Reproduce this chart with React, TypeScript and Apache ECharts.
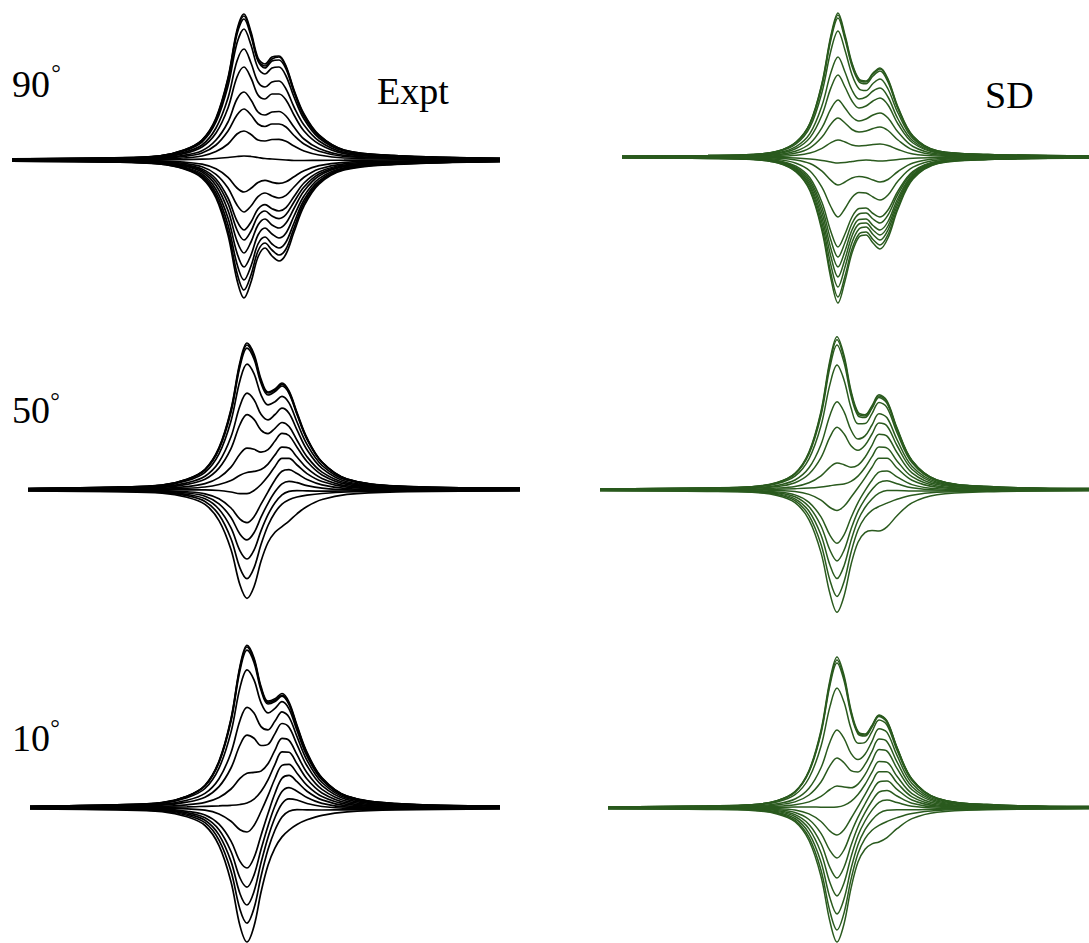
import React, { useEffect, useRef } from "react";
import * as echarts from "echarts";

// Offsets from the main line at which every trace is sampled. Each trace also
// carries one sample at the start and one at the end of its panel's span.
const SHIFT = [-130, -85, -60, -42, -28, -16, -7, 0, 7, 14, 21, 28, 35, 42, 50, 60, 75, 100, 150];

const ANGLES = ["90", "50", "10"];
const METHODS = ["Expt", "SD"];

// 90 degrees, experiment
const expt90 = [
  [1.2, 2.2, 4, 10, 20, 42, 82, 130, 146, 128, 102, 96, 103, 104, 94, 70, 46, 25, 10, 4.5, 1.6],
  [1.2, 2.1, 4, 10, 20, 41, 81, 128, 144, 126, 100, 94, 101, 103, 93, 69, 45, 24.5, 10, 4.4, 1.6],
  [1.1, 2.1, 4, 9.5, 19, 40, 79, 126, 141, 124, 99, 92, 99, 100, 91, 68, 44, 24, 9.5, 4.3, 1.5],
  [1, 1.8, 3.6, 9, 18, 38, 74, 117, 131, 115, 92, 86, 92, 93, 84, 63, 41, 22, 9, 4, 1.4],
  [0.9, 1.5, 3, 7.6, 15, 32, 62, 99, 111, 97, 78, 73, 78, 79, 71, 53, 35, 19, 7.6, 3.5, 1.2],
  [0.7, 1.4, 2.5, 6.4, 13, 27, 52, 83, 93, 82, 65, 61, 66, 66, 60, 45, 29, 16, 6.4, 2.9, 1],
  [0.5, 1, 1.9, 4.7, 9.3, 20, 38, 61, 68, 60, 48, 45, 48, 48.5, 44, 33, 21, 11.5, 4.7, 2.1, 0.8],
  [0.4, 0.7, 1.4, 3.5, 7, 15, 29, 45, 51, 45, 36, 33.5, 36, 36, 33, 24.5, 16, 8.7, 3.5, 1.6, 0.6],
  [0.2, 0.4, 0.8, 2, 4, 8.4, 16, 26, 29, 25.5, 20, 19, 20.5, 20.7, 18.7, 14, 9, 5, 2, 0.9, 0.4],
  [0, 0.1, 0.2, 0.4, 0.8, 1.5, 2.5, 3.5, 4, 3.5, 2.5, 1.5, 1, 0.5, 0, -0.5, -0.5, -0.3, -0.2, 0, 0],
  [-1.2, -2.1, -4, -9, -18, -38, -75, -120, -138, -122, -97, -88, -96, -101, -94, -72, -46, -24, -10, -4.5, -1.6],
  [-1.1, -2, -3.8, -8.5, -17, -36, -71, -113, -130, -115, -91, -83, -90, -95, -89, -68, -43, -22.6, -9.4, -4.3, -1.5],
  [-1, -1.8, -3.5, -7.8, -15.7, -33, -65, -104, -120, -106, -84, -77, -84, -88, -82, -63, -40, -21, -8.7, -3.9, -1.4],
  [-0.9, -1.7, -3.1, -7, -14, -29.5, -58, -93, -107, -95, -75, -68, -74, -78, -73, -56, -36, -18.6, -7.8, -3.5, -1.2],
  [-0.8, -1.4, -2.7, -6, -12, -25.6, -50.5, -81, -93, -82, -65, -59, -65, -68, -63, -48.5, -31, -16, -6.7, -3.1, -1.1],
  [-0.7, -1.3, -2.3, -5.2, -10.4, -22, -43.5, -70, -80, -71, -56, -51, -56, -58.6, -54.5, -42, -27, -14, -5.8, -2.6, -0.9],
  [-0.6, -1.1, -2, -4.6, -9, -19, -38, -61, -70, -62, -49, -44.6, -48.7, -51, -47.7, -36.5, -23, -12, -5, -2.3, -0.8],
  [-0.5, -0.8, -1.5, -3.4, -6.8, -14.3, -28, -45, -52, -46, -36.6, -33, -36, -38, -35.4, -27, -17.3, -9, -3.8, -1.7, -0.6],
  [-0.3, -0.5, -0.9, -2.1, -4.2, -8.8, -17.4, -28, -32, -28.3, -22.5, -20.4, -22.3, -23.4, -21.8, -16.7, -10.7, -5.6, -2.3, -1, -0.4],
];

// 90 degrees, SD simulation
const sd90 = [
  [0.8, 1.4, 2.5, 6, 15, 34, 74, 122, 144, 122, 94, 78, 76, 84, 89, 78, 50, 21, 6, 2.6, 1],
  [0.8, 1.4, 2.5, 5.9, 14.8, 33.5, 73, 120, 142, 120, 92.7, 77, 75, 83, 88, 77, 49, 20.7, 5.9, 2.6, 1],
  [0.7, 1.4, 2.4, 5.8, 14.5, 32.8, 71.4, 117.7, 139, 117.7, 90.7, 75.3, 73.3, 81, 86, 75, 48, 20, 5.8, 2.5, 1],
  [0.7, 1.3, 2.2, 5.2, 13, 29.8, 64.8, 106.8, 126, 106.8, 82.3, 68.3, 66.5, 73.5, 78, 68, 44, 18.4, 5.3, 2.3, 0.8],
  [0.5, 1, 1.7, 4.2, 10.4, 23.6, 51.4, 84.7, 100, 85, 67, 58, 60, 66, 69, 60, 38, 16, 4.5, 2, 0.7],
  [0.5, 0.8, 1.4, 3.4, 8.5, 19.4, 42, 69.4, 82, 70, 56, 49, 51, 56, 59, 52, 33, 14, 4, 1.7, 0.6],
  [0.3, 0.6, 1, 2.4, 6, 13.5, 29.3, 48.3, 57, 49, 40, 36, 38, 42, 44, 39, 25, 10.5, 3, 1.3, 0.4],
  [0.2, 0.4, 0.7, 1.6, 4, 9.2, 20, 33, 39, 34, 27.5, 25, 26, 28.5, 30, 26.5, 17, 7, 2, 0.8, 0.3],
  [0.1, 0.15, 0.3, 0.7, 1.8, 4, 8.7, 14.4, 17, 15, 12, 11, 11.5, 12.5, 13, 11.5, 7.5, 3, 1, 0.4, 0.2],
  [0, -0.1, -0.2, -0.5, -1, -2, -3.5, -5, -6, -5.5, -4.5, -3.5, -3, -3.5, -4, -3.5, -2.5, -1.2, -0.5, -0.1, 0],
  [-0.8, -1.4, -2.5, -6, -15, -34, -74, -122, -146, -124, -96, -80, -78, -86, -92, -81, -52, -22, -6.5, -2.6, -1],
  [-0.8, -1.4, -2.4, -5.8, -14.4, -32.6, -71, -117, -140, -119, -92, -77, -75, -82.5, -88, -77.5, -50, -21, -6.2, -2.5, -1],
  [-0.7, -1.3, -2.2, -5.3, -13.3, -30, -66, -108.6, -130, -110, -85.5, -72, -70, -77.5, -83, -73, -47, -19.8, -5.8, -2.3, -0.9],
  [-0.6, -1.1, -2, -4.9, -12.3, -28, -61, -100, -120, -102, -79, -67, -66, -73, -78, -69, -44, -18.6, -5.5, -2.2, -0.8],
  [-0.5, -1, -1.9, -4.5, -11.3, -25.6, -55.7, -92, -110, -94, -73, -62.5, -62, -68.5, -73, -64.5, -41, -17.4, -5.1, -2.1, -0.8],
  [-0.5, -1, -1.7, -4.1, -10.3, -23.3, -50.7, -83.6, -100, -85.5, -66.5, -57, -56, -62, -66, -58, -37, -15.7, -4.6, -1.8, -0.7],
  [-0.5, -0.8, -1.5, -3.7, -9.2, -21, -45.6, -75, -90, -77, -60, -51.5, -51, -56.5, -60, -53, -34, -14.3, -4.2, -1.7, -0.6],
  [-0.3, -0.6, -1, -2.5, -6.2, -14, -30.4, -50, -60, -51.5, -40.5, -35.5, -36, -40, -43, -38, -24, -10.2, -3, -1.2, -0.4],
  [-0.1, -0.3, -0.5, -1.2, -2.9, -6.5, -14.2, -23.4, -28, -25, -21, -19.5, -20.5, -23, -25, -22.5, -14.5, -6, -1.8, -0.7, -0.2],
];

// 50 degrees, experiment
const expt50 = [
  [1.4, 2.8, 4.9, 10.7, 20.7, 42.3, 80.7, 128, 147, 136, 111, 98, 101, 107, 99, 77.5, 52, 28, 11, 4, 1.8],
  [1.4, 2.8, 4.8, 10.6, 20.4, 41.7, 79.6, 126, 145, 134, 109, 97, 100, 105.6, 98, 76.5, 51.4, 27.8, 10.9, 3.9, 1.8],
  [1.4, 2.8, 4.7, 10.3, 19.9, 40.8, 77.8, 123.6, 141.8, 131, 107, 95, 98.5, 104, 96.7, 75.5, 50.7, 27.5, 10.8, 3.9, 1.8],
  [1.2, 2.5, 4.2, 9.2, 17.7, 36.2, 69.1, 109.6, 125.8, 116.3, 95.2, 85.1, 88.3, 93.6, 87.1, 68, 45.6, 24.7, 9.7, 3.5, 1.6],
  [1, 2, 3.3, 7.2, 13.8, 28, 53.2, 84.2, 96.8, 90.3, 75.7, 70.1, 75.5, 81.8, 76.7, 60.1, 40.2, 21.7, 8.3, 2.9, 1.2],
  [0.7, 1.5, 2.6, 5.7, 10.8, 21.9, 41.4, 65.5, 75.4, 70.6, 59.9, 56.4, 61.7, 67.5, 63.5, 49.8, 33.3, 17.9, 6.8, 2.3, 1],
  [0.5, 1.1, 1.7, 3.4, 6.4, 12.4, 22.9, 36, 41.8, 40.7, 37.8, 40.4, 49, 56.7, 54.5, 42.8, 28.5, 15.1, 5.6, 1.8, 0.8],
  [0.2, 0.7, 0.9, 1.7, 3, 5.5, 9.5, 14.8, 17.5, 18.6, 20.4, 25.9, 35.1, 42.9, 41.9, 33, 21.8, 11.5, 4.1, 1.3, 0.6],
  [0, 0.3, 0.3, 0.2, 0.15, -0.5, -2, -3.6, -3.6, -0.5, 5.5, 13.7, 23.6, 31.6, 31.6, 25, 16.4, 8.5, 2.9, 0.8, 0.4],
  [-0.2, -0.3, -0.6, -1.8, -3.8, -8.8, -18, -29.1, -32.6, -26.8, -14.2, -1.8, 10.1, 18.7, 20.3, 16.4, 10.5, 5.2, 1.4, 0.3, 0],
  [-0.3, -0.6, -1.2, -3, -6.2, -13.8, -27.5, -44.2, -49.9, -42.8, -27.2, -13.3, -1.8, 6.1, 8.6, 7.3, 4.4, 1.9, 0.1, -0.3, -0.1],
  [-0.5, -0.9, -1.8, -4.4, -8.8, -19.2, -37.9, -60.8, -69, -60.1, -40.9, -24.7, -12.8, -4.8, -1.4, -0.6, -0.9, -1.1, -1, -0.7, -0.3],
  [-0.7, -1.3, -2.4, -5.7, -11.5, -24.8, -48.8, -78.1, -88.7, -77.9, -54.6, -35.5, -22.5, -14.1, -9.7, -7, -5.2, -3.5, -2, -1.1, -0.5],
  [-1, -1.7, -3.1, -7.3, -14.4, -30.6, -59.6, -95.1, -108.3, -96.7, -71.3, -52.5, -42.3, -36.6, -31.1, -23.8, -16.4, -9.5, -4.3, -1.8, -0.8],
];

// 50 degrees, SD simulation
const sd50 = [
  [1, 2.1, 3.3, 7.5, 16.7, 38, 78.7, 130, 153.2, 134.7, 99.4, 77.8, 75.3, 84.3, 95.2, 89.2, 62.2, 29.6, 10, 3.5, 1.4],
  [1, 2.1, 3.3, 7.4, 16.4, 37.3, 77.1, 127.3, 150.2, 132, 97.4, 76.4, 74.1, 83.1, 93.9, 88, 61.3, 29.2, 9.9, 3.4, 1.4],
  [1, 2.1, 3.2, 7.1, 15.8, 36, 74.5, 123.1, 145.1, 127.6, 94.4, 74.3, 72.5, 81.6, 92.5, 86.7, 60.5, 28.8, 9.7, 3.4, 1.4],
  [1, 1.8, 2.8, 6.3, 13.8, 31.2, 64.2, 105.9, 124.9, 110.1, 82.3, 66.2, 66.4, 76.4, 87.6, 82.4, 57.4, 27.2, 9, 3.1, 1.2],
  [0.7, 1.4, 2.1, 4.6, 10, 22.2, 45.5, 74.8, 88.3, 78.4, 60, 50.9, 54.1, 65, 76.2, 72.3, 50.4, 23.7, 7.7, 2.6, 1],
  [0.5, 1.1, 1.6, 3.4, 7.3, 16, 32.4, 53.1, 62.7, 56.2, 44.3, 39.8, 44.8, 56, 66.9, 64, 44.5, 20.8, 6.7, 2.2, 0.8],
  [0.2, 0.7, 0.9, 1.9, 3.6, 7.3, 14.2, 22.9, 27.1, 25.3, 22.7, 24.8, 32.8, 44.7, 55.7, 53.9, 37.5, 17.2, 5.4, 1.7, 0.6],
  [0.2, 0.4, 0.5, 0.8, 1.3, 1.9, 3, 4.3, 5.3, 6.1, 8.7, 13.9, 22.5, 33.3, 42.9, 41.9, 29.1, 13.3, 4, 1.2, 0.4],
  [0, 0.05, -0.05, -0.4, -1.5, -4.4, -10.1, -17.5, -20.4, -16.3, -7.3, 2.2, 12.2, 22.8, 31.7, 31.7, 22, 9.8, 2.8, 0.7, 0.2],
  [-0.2, -0.35, -0.7, -1.9, -4.9, -12.4, -26.9, -45.3, -53.2, -44.9, -27.8, -12.6, -0.65, 9.75, 17.8, 19, 13.1, 5.4, 1.2, 0.1, 0],
  [-0.3, -0.6, -1.1, -2.8, -6.8, -16.8, -36, -60.3, -70.9, -60.4, -39.2, -21.4, -9.1, 0.45, 7.4, 9.2, 6.3, 2.2, 0.1, -0.3, -0.1],
  [-0.5, -0.8, -1.4, -3.6, -8.8, -21.2, -45.1, -75.3, -88.6, -75.9, -50.6, -30.2, -17.5, -8.9, -3.1, -0.5, -0.5, -1, -1, -0.7, -0.3],
  [-0.5, -1.1, -1.9, -4.5, -10.7, -25.6, -54.3, -90.5, -106.5, -91.8, -62.5, -40, -27.4, -20.4, -16.4, -13.1, -9.3, -5.2, -2.3, -1.2, -0.5],
  [-0.7, -1.4, -2.3, -5.5, -12.7, -29.8, -62.6, -103.8, -122.3, -106.2, -74.7, -52.2, -42.6, -40.5, -41.1, -36.9, -25.8, -12.8, -4.7, -1.8, -0.8],
];

// 10 degrees, experiment
const expt10 = [
  [1.7, 3.1, 5.3, 11.8, 22.8, 46.8, 89.3, 141.9, 162.7, 150, 121.5, 106.9, 109.2, 114.5, 106, 82.7, 55.6, 30.2, 11.9, 4.3, 1.8],
  [1.7, 3.1, 5.3, 11.7, 22.5, 46.3, 88.4, 140.4, 161, 148.4, 120.1, 105.6, 107.7, 112.7, 104.4, 81.5, 54.8, 29.7, 11.7, 4.3, 1.8],
  [1.7, 3.1, 5.2, 11.4, 22.1, 45.4, 86.8, 137.7, 157.9, 145.6, 118.1, 104, 106.5, 111.8, 103.5, 80.8, 54.3, 29.5, 11.6, 4.2, 1.8],
  [1.4, 2.8, 4.6, 10.2, 19.5, 39.9, 75.9, 120.4, 138.2, 128.1, 105.4, 95.1, 99.7, 106.3, 99.1, 77.5, 51.9, 28.1, 10.9, 3.9, 1.6],
  [1.2, 2.2, 3.6, 7.7, 14.6, 29.3, 55.3, 87.5, 100.7, 94.9, 81.4, 78.2, 87, 96.2, 90.9, 71.3, 47.6, 25.5, 9.7, 3.4, 1.4],
  [1, 1.7, 2.8, 5.8, 10.8, 21.4, 40, 63, 72.8, 69.7, 62.5, 63.6, 74.4, 84.5, 80.7, 63.4, 42.2, 22.4, 8.4, 2.7, 1.2],
  [0.5, 1.1, 1.6, 3.2, 5.7, 10.6, 19, 29.6, 34.7, 35.6, 36.9, 44.2, 57.9, 69.7, 67.7, 53.4, 35.3, 18.6, 6.7, 2.1, 0.8],
  [0.2, 0.6, 0.75, 1.1, 1.7, 2.2, 2.7, 3.5, 5, 8.8, 16.5, 28.1, 43.7, 56.2, 55.7, 44.2, 29, 15.1, 5.2, 1.4, 0.6],
  [0, 0.1, -0.1, -0.9, -2.2, -6, -13.3, -21.8, -24, -17.4, -3.5, 12.3, 29.5, 42.6, 43.6, 34.8, 22.7, 11.5, 3.7, 0.9, 0.4],
  [-0.2, -0.4, -1.2, -3.3, -7, -16.2, -33.1, -53.4, -60, -49.6, -27.4, -5.5, 14.8, 29.7, 32.6, 26.3, 16.8, 8.1, 2.2, 0.3, 0],
  [-0.5, -0.8, -1.8, -4.7, -9.7, -21.7, -43.5, -70, -79.1, -67.1, -41.5, -17.9, 2.2, 16.5, 20.4, 16.8, 10.5, 4.7, 0.8, -0.3, -0.1],
  [-0.5, -1.1, -2.4, -6, -12.2, -26.9, -53.4, -85.7, -97, -83.6, -54.9, -29.5, -9.5, 4.3, 9.1, 8, 4.5, 1.5, -0.4, -0.7, -0.3],
  [-0.7, -1.5, -3, -7.3, -14.7, -32.1, -63.3, -101.4, -115.1, -100.3, -68.5, -41.6, -22, -8.9, -3.2, -1.6, -1.9, -2, -1.8, -1.2, -0.5],
  [-1, -2, -3.7, -8.8, -17.5, -37.6, -73.7, -117.9, -134, -118.3, -84.2, -57.2, -39.8, -28.9, -22.1, -16.5, -11.8, -7.3, -3.8, -1.8, -0.8],
];

// 10 degrees, SD simulation
const sd10 = [
  [1, 2.1, 3.3, 7.4, 16.4, 37.5, 77.6, 128.2, 151.1, 132.8, 97.9, 76.5, 73.9, 82.6, 93.1, 87.2, 60.7, 28.9, 9.8, 3.4, 1.4],
  [1, 2.1, 3.2, 7.3, 16.1, 36.8, 76, 125.5, 148, 130.2, 96.1, 75.3, 73, 81.8, 92.4, 86.5, 60.3, 28.7, 9.7, 3.4, 1.4],
  [1, 2.1, 3.2, 7.1, 15.8, 36, 74.5, 123, 145, 127.5, 94.2, 74, 72, 80.9, 91.5, 85.7, 59.8, 28.4, 9.6, 3.4, 1.4],
  [1, 1.8, 2.7, 6.1, 13.3, 30, 61.7, 101.6, 119.9, 105.9, 79.5, 64.7, 65.7, 76.4, 88, 83, 57.8, 27.4, 9, 3.1, 1.2],
  [0.7, 1.4, 2, 4.2, 9, 19.8, 40.2, 66, 78, 69.7, 54.6, 48.4, 53.8, 66.6, 79.2, 75.6, 52.6, 24.6, 7.9, 2.6, 1],
  [0.5, 1, 1.4, 3, 6.1, 13, 26, 42.3, 50, 45.3, 37.4, 36.1, 43.6, 56.6, 68.9, 66.3, 46.1, 21.3, 6.8, 2.2, 0.8],
  [0.2, 0.7, 0.9, 1.7, 3.2, 6.1, 11.6, 18.5, 22, 21, 20.2, 23.9, 33.3, 46.6, 58.6, 56.9, 39.6, 18.2, 5.6, 1.7, 0.6],
  [0.2, 0.4, 0.4, 0.7, 0.9, 1, 0.8, 0.7, 1, 2.6, 6.7, 13.5, 23.5, 35.8, 46.5, 45.6, 31.7, 14.4, 4.3, 1.2, 0.4],
  [0, 0, -0.1, -0.6, -2, -5.9, -13.5, -23.1, -27, -21.8, -10.5, 1.3, 13.3, 25.8, 36.2, 36.3, 25.2, 11.2, 3.1, 0.8, 0.2],
  [-0.2, -0.3, -0.6, -1.7, -4.5, -11.5, -25.3, -42.6, -50, -41.9, -24.9, -9.2, 4, 16.3, 26, 26.9, 18.7, 8, 2, 0.4, 0],
  [-0.2, -0.6, -1, -2.6, -6.6, -16.4, -35.5, -59.6, -70, -59.3, -37.6, -18.7, -4.7, 7, 15.8, 17.5, 12, 4.8, 0.9, 0, 0],
  [-0.5, -0.7, -1.4, -3.5, -8.5, -20.9, -44.7, -74.8, -87.9, -75, -49.1, -27.5, -13, -2.1, 5.7, 8, 5.5, 1.7, -0.2, -0.4, -0.2],
  [-0.5, -1, -1.7, -4.4, -10.5, -25.3, -54, -90.1, -106, -91, -60.8, -36.7, -21.7, -11.9, -5.3, -2.2, -1.7, -1.8, -1.3, -0.8, -0.2],
  [-0.7, -1.3, -2.1, -5.2, -12.3, -29.4, -62.2, -103.7, -122, -105.1, -71.4, -45.4, -30.6, -22.2, -17.3, -13.5, -9.6, -5.5, -2.6, -1.3, -0.6],
  [-0.7, -1.5, -2.5, -5.9, -13.7, -32.5, -68.5, -113.8, -134, -116, -80.4, -54.1, -41.2, -35.9, -34, -29.6, -20.7, -10.6, -4.2, -1.8, -0.8],
];

const INK = "#000000";
const GREEN = "#2a5a1e";
const SERIF = '"Liberation Serif", "Times New Roman", serif';
const PAGE_H = 943;

type Panel = {
  traces: number[][];
  color: string;
  width: number;
  centre: number; // pixel column of the main line
  base: number; // pixel row of the zero line
  from: number; // span start, in offset units
  to: number; // span end, in offset units
};

const PANELS: Panel[] = [
  { traces: expt90, color: INK, width: 1.7, centre: 244, base: 160, from: -232, to: 256 },
  { traces: sd90, color: GREEN, width: 1.5, centre: 838, base: 157, from: -216, to: 251 },
  { traces: expt50, color: INK, width: 1.7, centre: 247, base: 490, from: -219, to: 273 },
  { traces: sd50, color: GREEN, width: 1.5, centre: 837, base: 490, from: -237, to: 252 },
  { traces: expt10, color: INK, width: 1.7, centre: 247, base: 808, from: -217, to: 253 },
  { traces: sd10, color: GREEN, width: 1.5, centre: 837, base: 808, from: -229, to: 252 },
];

// Row label anchors: left edge, centre row of the digits, centre of the degree ring.
const ANGLE_POS = [
  { x: 12, y: 84, ringX: 56, ringY: 66 },
  { x: 12, y: 410, ringX: 55, ringY: 394 },
  { x: 12, y: 738, ringX: 55, ringY: 721 },
];
const METHOD_POS = [
  { x: 377, y: 91 },
  { x: 985, y: 95 },
];

function buildOption() {
  // One unit of intensity is one pixel; each grid stays inside the page.
  const reach = PANELS.map((p) => ({
    up: Math.min(200, p.base),
    down: Math.min(200, PAGE_H - p.base),
  }));
  const grid = PANELS.map((p, i) => ({
    left: p.centre + p.from,
    top: p.base - reach[i].up,
    width: p.to - p.from,
    height: reach[i].up + reach[i].down,
  }));
  const xAxis = PANELS.map((p, i) => ({
    type: "value",
    gridIndex: i,
    min: p.from,
    max: p.to,
    show: false,
  }));
  const yAxis = PANELS.map((_, i) => ({
    type: "value",
    gridIndex: i,
    min: -reach[i].down,
    max: reach[i].up,
    show: false,
  }));
  const series = PANELS.flatMap((p, i) =>
    p.traces.map((t) => ({
      type: "line",
      xAxisIndex: i,
      yAxisIndex: i,
      symbol: "none",
      showSymbol: false,
      smooth: 0.35,
      clip: false,
      silent: true,
      lineStyle: { color: p.color, width: p.width },
      data: [
        [p.from, t[0]],
        ...SHIFT.map((s, k) => [s, t[k + 1]]),
        [p.to, t[t.length - 1]],
      ],
    }))
  );

  const graphic: any[] = [];
  ANGLES.forEach((a, i) => {
    const pos = ANGLE_POS[i];
    graphic.push({
      type: "text",
      style: {
        x: pos.x,
        y: pos.y,
        text: a,
        font: `38px ${SERIF}`,
        fill: "#000",
        textAlign: "left",
        textVerticalAlign: "middle",
      },
    });
    graphic.push({
      type: "text",
      style: {
        x: pos.ringX,
        y: pos.ringY + 7,
        text: "°",
        font: `24px ${SERIF}`,
        fill: "#000",
        textAlign: "center",
        textVerticalAlign: "middle",
      },
    });
  });
  METHODS.forEach((m, i) => {
    const pos = METHOD_POS[i];
    graphic.push({
      type: "text",
      style: {
        x: pos.x,
        y: pos.y,
        text: m,
        font: `38px ${SERIF}`,
        fill: "#000",
        textAlign: "left",
        textVerticalAlign: "middle",
      },
    });
  });

  return {
    animation: false,
    backgroundColor: "#ffffff",
    grid,
    xAxis,
    yAxis,
    series,
    graphic,
  };
}

export default function App() {
  const ref = useRef<HTMLDivElement>(null);
  useEffect(() => {
    if (!ref.current) return;
    const chart = echarts.init(ref.current, undefined, { renderer: "svg" });
    chart.setOption(buildOption() as any);
    return () => chart.dispose();
  }, []);
  return (
    <div
      ref={ref}
      style={{ position: "fixed", left: 0, top: 0, width: 1089, height: PAGE_H, background: "#fff" }}
    />
  );
}
